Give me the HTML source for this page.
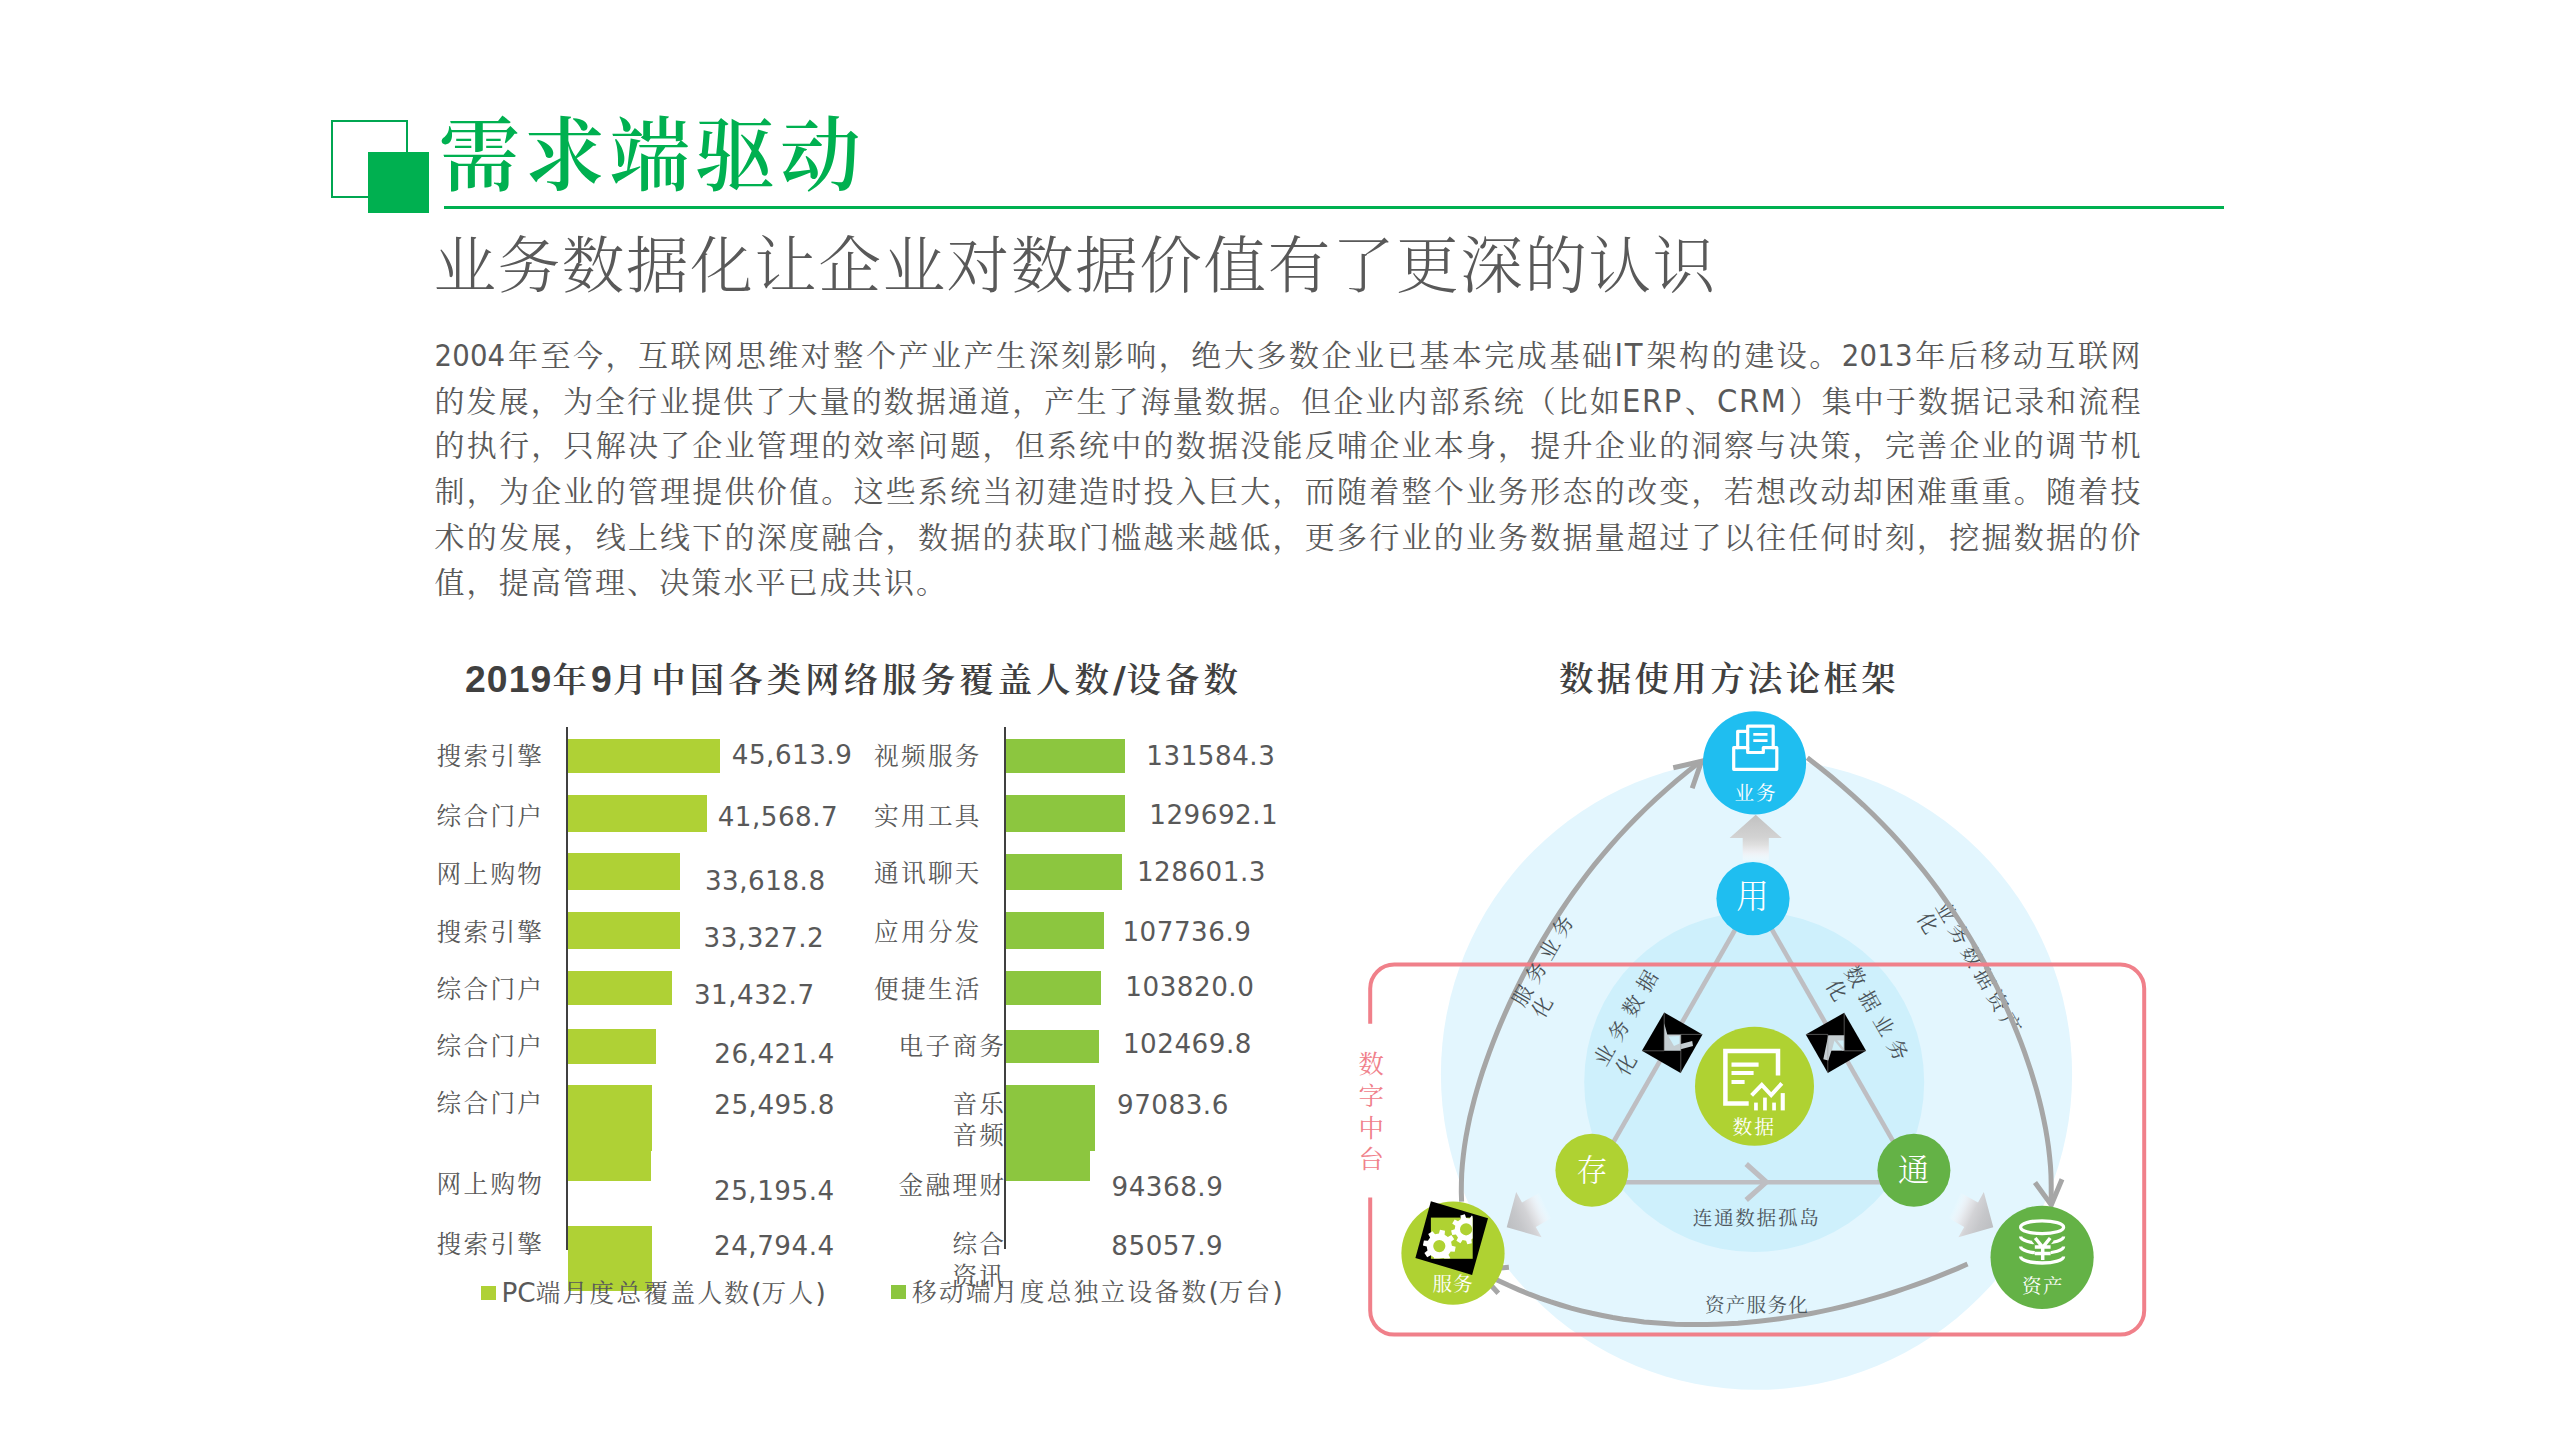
<!DOCTYPE html><html lang="zh-CN"><head><meta charset="utf-8"><title>需求端驱动</title><style>
*{margin:0;padding:0;box-sizing:border-box}
html,body{width:2560px;height:1440px;background:#fff;overflow:hidden}
body{position:relative;font-family:"Liberation Sans","Noto Serif CJK SC",sans-serif;color:#595959}
.abs{position:absolute;white-space:nowrap}
.title{left:439px;top:97.3px;font:600 80.6px/120px "Liberation Serif","Noto Serif CJK SC",serif;color:#00B050;letter-spacing:4.65px}
.sub{left:433.5px;top:220.5px;font:300 62.5px/92px "Liberation Serif","Noto Serif CJK SC",serif;color:#595959;letter-spacing:1.67px}
.body{left:434.5px;width:1706px;font:400 30px/46px "Liberation Sans","Noto Serif CJK SC",sans-serif;color:#595959;text-align:justify;text-align-last:justify;white-space:nowrap}
.body.last{text-align-last:left;width:auto;letter-spacing:2.1px}
.body b,.body em{font-weight:400;font-style:normal;font-family:"DejaVu Sans Condensed","Liberation Sans",sans-serif;font-size:30.6px;letter-spacing:0.2px}
.body em{font-size:32.3px;letter-spacing:1.6px}
.ctitle{font:600 34.4px/50px "DejaVu Sans","Noto Serif CJK SC",sans-serif;color:#404040;letter-spacing:4.1px}
.ctitle i{font-style:normal;font-family:"DejaVu Sans",sans-serif;font-weight:700;font-size:35px;letter-spacing:0.5px}
.ctitle b{font-family:"Liberation Sans",sans-serif;font-weight:700;font-size:37.3px;letter-spacing:1.1px}
.lab{font:400 24.6px/34px "Liberation Serif","Noto Serif CJK SC",serif;color:#595959;letter-spacing:2.35px}
.val{font:400 26.2px/34px "DejaVu Sans","Liberation Sans",sans-serif;color:#595959;transform:translateX(-50%);letter-spacing:0.5px;text-indent:0.5px}
.leg{font:400 24.6px/34px "DejaVu Sans","Noto Serif CJK SC",sans-serif;color:#595959;letter-spacing:2.35px}
.leg b{font-weight:400;font-size:26.3px;letter-spacing:0}
.bar{position:absolute}
</style></head><body>
<div class="abs" style="left:331px;top:120px;width:77px;height:78px;border:2px solid #00A651"></div>
<div class="abs" style="left:368px;top:152px;width:61px;height:61px;background:#00B050"></div>
<div class="abs" style="left:444px;top:206px;width:1780px;height:3px;background:#00B050"></div>
<div class="abs title">需求端驱动</div>
<div class="abs sub">业务数据化让企业对数据价值有了更深的认识</div>
<div class="abs body" style="top:332px"><b>2004</b>年至今，互联网思维对整个产业产生深刻影响，绝大多数企业已基本完成基础<em>IT</em>架构的建设。<b>2013</b>年后移动互联网</div>
<div class="abs body" style="top:377.7px">的发展，为全行业提供了大量的数据通道，产生了海量数据。但企业内部系统（比如<em>ERP</em>、<em>CRM</em>）集中于数据记录和流程</div>
<div class="abs body" style="top:423.4px">的执行，只解决了企业管理的效率问题，但系统中的数据没能反哺企业本身，提升企业的洞察与决策，完善企业的调节机</div>
<div class="abs body" style="top:469.1px">制，为企业的管理提供价值。这些系统当初建造时投入巨大，而随着整个业务形态的改变，若想改动却困难重重。随着技</div>
<div class="abs body" style="top:514.8px">术的发展，线上线下的深度融合，数据的获取门槛越来越低，更多行业的业务数据量超过了以往任何时刻，挖掘数据的价</div>
<div class="abs body last" style="top:559.5px">值，提高管理、决策水平已成共识。</div>
<div class="abs ctitle" style="left:465px;top:654px"><b>2019</b>年<b>9</b>月中国各类网络服务覆盖人数<i>/</i>设备数</div>
<div class="abs ctitle" style="left:1559px;top:654px;letter-spacing:3.4px;font-family:'Liberation Serif','Noto Serif CJK SC',serif;font-weight:600">数据使用方法论框架</div>
<div class="bar" style="left:568px;top:739px;width:152px;height:34px;background:#AFD135"></div>
<div class="bar" style="left:568px;top:795px;width:139px;height:37px;background:#AFD135"></div>
<div class="bar" style="left:568px;top:853px;width:112px;height:37px;background:#AFD135"></div>
<div class="bar" style="left:568px;top:912px;width:112px;height:37px;background:#AFD135"></div>
<div class="bar" style="left:568px;top:971px;width:104px;height:34px;background:#AFD135"></div>
<div class="bar" style="left:568px;top:1029px;width:88px;height:35px;background:#AFD135"></div>
<div class="bar" style="left:568px;top:1085px;width:84px;height:66px;background:#AFD135"></div>
<div class="bar" style="left:568px;top:1150px;width:82.60000000000002px;height:30.5px;background:#AFD135"></div>
<div class="bar" style="left:568px;top:1226px;width:84px;height:65px;background:#AFD135"></div>
<div class="bar" style="left:1006px;top:739px;width:119px;height:34px;background:#8CC63F"></div>
<div class="bar" style="left:1006px;top:795px;width:119px;height:37px;background:#8CC63F"></div>
<div class="bar" style="left:1006px;top:853.5px;width:116px;height:36.5px;background:#8CC63F"></div>
<div class="bar" style="left:1006px;top:912px;width:97.75px;height:37px;background:#8CC63F"></div>
<div class="bar" style="left:1006px;top:971px;width:95px;height:34px;background:#8CC63F"></div>
<div class="bar" style="left:1006px;top:1029.7px;width:92.5px;height:33.700000000000045px;background:#8CC63F"></div>
<div class="bar" style="left:1006px;top:1085px;width:88.75px;height:66px;background:#8CC63F"></div>
<div class="bar" style="left:1006px;top:1150px;width:84.25px;height:31px;background:#8CC63F"></div>
<div class="bar" style="left:566.4px;top:727px;width:2px;height:522.6px;background:#404040"></div>
<div class="bar" style="left:1004.4px;top:727px;width:2px;height:522px;background:#404040"></div>
<div class="abs lab" style="left:436.5px;top:740.0px">搜索引擎</div>
<div class="abs lab" style="left:436.5px;top:799.5px">综合门户</div>
<div class="abs lab" style="left:436.5px;top:858.1px">网上购物</div>
<div class="abs lab" style="left:436.5px;top:916.2px">搜索引擎</div>
<div class="abs lab" style="left:436.5px;top:972.8px">综合门户</div>
<div class="abs lab" style="left:436.5px;top:1030.0px">综合门户</div>
<div class="abs lab" style="left:436.5px;top:1086.5px">综合门户</div>
<div class="abs lab" style="left:436.5px;top:1168.0px">网上购物</div>
<div class="abs lab" style="left:436.5px;top:1228.0px">搜索引擎</div>
<div class="abs lab" style="left:874px;top:739.8px">视频服务</div>
<div class="abs lab" style="left:874px;top:799.8px">实用工具</div>
<div class="abs lab" style="left:874px;top:857.0px">通讯聊天</div>
<div class="abs lab" style="left:874px;top:916.1px">应用分发</div>
<div class="abs lab" style="left:874px;top:972.5px">便捷生活</div>
<div class="abs lab" style="right:1553.7px;top:1030.4px">电子商务</div>
<div class="abs lab" style="right:1553.7px;top:1087.5px">音乐</div>
<div class="abs lab" style="right:1553.7px;top:1119.4px">音频</div>
<div class="abs lab" style="right:1553.7px;top:1168.5px">金融理财</div>
<div class="abs lab" style="right:1553.7px;top:1227.5px">综合</div>
<div class="abs lab" style="right:1553.7px;top:1259.9px">资讯</div>
<div class="abs val" style="left:791.8px;top:738.4px">45,613.9</div>
<div class="abs val" style="left:777.7px;top:800.3px">41,568.7</div>
<div class="abs val" style="left:765.0px;top:864.0px">33,618.8</div>
<div class="abs val" style="left:763.6px;top:920.6px">33,327.2</div>
<div class="abs val" style="left:754.0px;top:978.3px">31,432.7</div>
<div class="abs val" style="left:774.3px;top:1036.5px">26,421.4</div>
<div class="abs val" style="left:774.3px;top:1087.7px">25,495.8</div>
<div class="abs val" style="left:774.1px;top:1174.0px">25,195.4</div>
<div class="abs val" style="left:774.1px;top:1229.3px">24,794.4</div>
<div class="abs val" style="left:1210.6px;top:738.7px">131584.3</div>
<div class="abs val" style="left:1213.5px;top:798.3px">129692.1</div>
<div class="abs val" style="left:1201.2px;top:854.6px">128601.3</div>
<div class="abs val" style="left:1186.7px;top:914.6px">107736.9</div>
<div class="abs val" style="left:1189.6px;top:969.7px">103820.0</div>
<div class="abs val" style="left:1187.2px;top:1027.4px">102469.8</div>
<div class="abs val" style="left:1172.7px;top:1088.3px">97083.6</div>
<div class="abs val" style="left:1167.2px;top:1170.3px">94368.9</div>
<div class="abs val" style="left:1167.0px;top:1228.7px">85057.9</div>
<div class="bar" style="left:481px;top:1286px;width:15px;height:14px;background:#AFD135"></div>
<div class="abs leg" style="left:501.5px;top:1275.9px"><b>PC</b>端月度总覆盖人数<b>(</b>万人<b>)</b></div>
<div class="bar" style="left:891px;top:1285px;width:15px;height:14px;background:#8CC63F"></div>
<div class="abs leg" style="left:912px;top:1274.8px">移动端月度总独立设备数<b>(</b>万台<b>)</b></div>
<svg class="abs" style="left:0;top:0" width="2560" height="1440" viewBox="0 0 2560 1440">
<defs><linearGradient id="ga" x1="0" y1="814.8" x2="0" y2="860.8" gradientUnits="userSpaceOnUse"><stop offset="0" stop-color="#c1c1c1"/><stop offset="0.5" stop-color="#d3d3d3"/><stop offset="0.66" stop-color="#e0e0e0"/><stop offset="0.82" stop-color="#f1eef1" stop-opacity="0.8"/><stop offset="1" stop-color="#ffffff" stop-opacity="0.2"/></linearGradient><linearGradient id="gl" x1="1506.7" y1="1227.2" x2="1548.5" y2="1208" gradientUnits="userSpaceOnUse"><stop offset="0" stop-color="#bcbec1"/><stop offset="0.3" stop-color="#c6c7ca"/><stop offset="0.52" stop-color="#d3d3d6"/><stop offset="0.68" stop-color="#e4e3e6" stop-opacity="0.85"/><stop offset="0.82" stop-color="#f2f1f5" stop-opacity="0.5"/><stop offset="0.97" stop-color="#ffffff" stop-opacity="0"/></linearGradient><linearGradient id="gr" x1="1993.3" y1="1227.2" x2="1951.5" y2="1208" gradientUnits="userSpaceOnUse"><stop offset="0" stop-color="#bcbec1"/><stop offset="0.3" stop-color="#c6c7ca"/><stop offset="0.52" stop-color="#d3d3d6"/><stop offset="0.68" stop-color="#e4e3e6" stop-opacity="0.85"/><stop offset="0.82" stop-color="#f2f1f5" stop-opacity="0.5"/><stop offset="0.97" stop-color="#ffffff" stop-opacity="0"/></linearGradient><clipPath id="gearclip"><rect x="1422" y="1213.5" width="50.6" height="45"/></clipPath></defs>
<circle cx="1756.5" cy="1074.2" r="315.6" fill="#E3F6FE"/>
<circle cx="1754.2" cy="1082" r="170" fill="#CEF0FC"/>
<g fill="none" stroke="#BEBEC2" stroke-width="4.6" stroke-linecap="butt">
<path d="M1753.6,897.5 L1590.5,1182.2"/><path d="M1753.6,897.5 L1916.5,1182.2"/><path d="M1590.5,1182.2 L1916.5,1182.2"/>
<path d="M1746.2,1164 L1766.3,1182.1 L1746.2,1200" stroke-linejoin="miter" stroke-width="5.2"/>
</g>
<g font-family="'Liberation Serif','Noto Serif CJK SC',serif" fill="#4a5257" font-size="20.5"><text transform="translate(1946.2,911.6) rotate(60)" letter-spacing="5.3"><tspan x="-10.2" y="7.3">业务数据资产</tspan><tspan x="-9.7" y="29.1">化</tspan></text></g>
<g fill="none" stroke="#A6A6A6" stroke-width="5" stroke-linecap="butt" stroke-linejoin="miter">
<path d="M1700.1,761.7 L1688.2,771.1 L1676.9,780.4 L1666.0,789.8 L1655.7,799.1 L1645.8,808.5 L1636.3,817.9 L1627.2,827.2 L1618.5,836.6 L1610.2,846.0 L1602.2,855.3 L1594.5,864.7 L1587.2,874.0 L1580.1,883.4 L1573.3,892.8 L1566.8,902.1 L1560.5,911.5 L1554.4,920.8 L1548.6,930.2 L1543.0,939.6 L1537.5,948.9 L1532.3,958.3 L1527.3,967.7 L1522.4,977.0 L1517.7,986.4 L1513.2,995.7 L1508.8,1005.1 L1504.6,1014.5 L1500.6,1023.8 L1496.7,1033.2 L1493.0,1042.6 L1489.5,1051.9 L1486.1,1061.3 L1482.9,1070.6 L1479.9,1080.0 L1477.1,1089.4 L1474.5,1098.7 L1472.1,1108.1 L1469.8,1117.4 L1467.9,1126.8 L1466.1,1136.2 L1464.6,1145.5 L1463.4,1154.9 L1462.4,1164.3 L1461.7,1173.6 L1461.4,1183.0 L1461.3,1192.3 L1461.6,1201.7"/><path d="M1807.3,757.8 L1819.5,767.3 L1831.3,776.8 L1842.5,786.3 L1853.3,795.8 L1863.6,805.3 L1873.4,814.8 L1882.8,824.3 L1891.9,833.8 L1900.5,843.3 L1908.9,852.8 L1916.8,862.3 L1924.5,871.8 L1931.8,881.3 L1938.9,890.8 L1945.6,900.3 L1952.2,909.8 L1958.4,919.3 L1964.5,928.8 L1970.3,938.3 L1975.9,947.8 L1981.2,957.3 L1986.4,966.8 L1991.4,976.3 L1996.2,985.7 L2000.8,995.2 L2005.2,1004.7 L2009.4,1014.2 L2013.4,1023.7 L2017.3,1033.2 L2021.0,1042.7 L2024.5,1052.2 L2027.8,1061.7 L2031.0,1071.2 L2033.9,1080.7 L2036.7,1090.2 L2039.2,1099.7 L2041.5,1109.2 L2043.6,1118.7 L2045.5,1128.2 L2047.1,1137.7 L2048.5,1147.2 L2049.6,1156.7 L2050.5,1166.2 L2051.0,1175.7 L2051.2,1185.2 L2051.2,1194.7 L2050.7,1204.2"/><path d="M1477.2,1269.6 L1487.6,1275.2 L1498.1,1280.4 L1508.5,1285.3 L1518.9,1289.9 L1529.4,1294.2 L1539.8,1298.1 L1550.2,1301.7 L1560.7,1305.0 L1571.1,1308.1 L1581.5,1310.8 L1592.0,1313.3 L1602.4,1315.5 L1612.8,1317.5 L1623.2,1319.2 L1633.7,1320.6 L1644.1,1321.9 L1654.5,1322.8 L1665.0,1323.6 L1675.4,1324.2 L1685.8,1324.5 L1696.3,1324.6 L1706.7,1324.6 L1717.1,1324.3 L1727.6,1323.8 L1738.0,1323.2 L1748.4,1322.3 L1758.9,1321.3 L1769.3,1320.1 L1779.7,1318.7 L1790.2,1317.1 L1800.6,1315.4 L1811.0,1313.5 L1821.5,1311.4 L1831.9,1309.1 L1842.3,1306.7 L1852.7,1304.1 L1863.2,1301.3 L1873.6,1298.4 L1884.0,1295.3 L1894.5,1292.0 L1904.9,1288.5 L1915.3,1284.9 L1925.8,1281.1 L1936.2,1277.1 L1946.6,1272.9 L1957.1,1268.6 L1967.5,1264.0"/>
<path d="M1673.3,767.8 L1701.5,761.3 L1692.2,788.3"/>
<path d="M2035,1182.5 L2051.3,1205 L2062,1179.2"/>
<path d="M1508.9,1267.2 L1477.2,1270.1 L1498.3,1293.3" />
</g>
<path d="M1755.7,814.8 L1729.6,838.1 L1742.7,838.1 L1742.7,860.8 L1768.8,860.8 L1768.8,838.1 L1781.8,838.1 Z" fill="url(#ga)"/>
<path d="M1506.7,1227.2 L1541.6,1237.2 L1535.8,1226.9 L1553.6,1216.8 L1539.9,1192.4 L1522.0,1202.5 L1516.2,1192.1 Z" fill="url(#gl)"/>
<path d="M1993.3,1227.2 L1983.8,1192.1 L1978.0,1202.5 L1960.1,1192.4 L1946.4,1216.8 L1964.2,1226.9 L1958.4,1237.2 Z" fill="url(#gr)"/>
<path d="M1370.2,1023.7 L1370.2,988.6 A24,24 0 0 1 1394.2,964.6 L2120.2,964.6 A24,24 0 0 1 2144.2,988.6 L2144.2,1310.6 A24,24 0 0 1 2120.2,1334.6 L1394.2,1334.6 A24,24 0 0 1 1370.2,1310.6 L1370.2,1197.6" fill="none" stroke="#F0808A" stroke-width="4"/>
<circle cx="1754.5" cy="762.9" r="51.6" fill="#1FBEF0"/>
<circle cx="1753" cy="898.6" r="36.6" fill="#1FBEF0"/>
<circle cx="1754.5" cy="1086.2" r="59.5" fill="#AFD232"/>
<circle cx="1591.9" cy="1170.3" r="36.5" fill="#AFD232"/>
<circle cx="1913.9" cy="1170.3" r="36.5" fill="#64B246"/>
<circle cx="1453" cy="1253.2" r="51.6" fill="#AFD232"/>
<circle cx="2042.1" cy="1257.3" r="51.6" fill="#64B246"/>
<g fill="none" stroke="#fff" stroke-width="3.2" stroke-linejoin="round" stroke-linecap="round">
<path d="M1733.7,747.7 H1747.7 V752.5 H1763.3 V747.7 H1776.8 V769.3 H1733.7 Z"/>
<path d="M1747.7,749 V726.2 H1773.2 V747.7"/>
<path d="M1737.7,747.7 V731.3 H1746.5"/>
<path d="M1753.3,734.3 H1767.5 M1753.3,740.7 H1767.5" stroke-width="2.8" stroke-linecap="butt"/>
</g>
<g fill="none" stroke="#fff" stroke-linejoin="miter" stroke-linecap="butt">
<path d="M1778,1075.5 V1051.1 H1725.4 V1103.5 H1748.7" stroke-width="4.5"/>
<path d="M1731.5,1064.7 H1758.6 M1731.5,1073 H1753.6 M1731.5,1082 H1744.6" stroke-width="4.2"/>
<path d="M1751.6,1095.4 L1761.8,1084.8 L1771.2,1095 L1781.8,1083.4" stroke-width="4"/>
</g>
<g fill="#fff"><rect x="1754.1" y="1102.6" width="3.7" height="7.8"/><rect x="1763.1" y="1097.6" width="3.7" height="12.8"/><rect x="1772.2" y="1102.6" width="3.7" height="7.8"/><rect x="1780.7" y="1093.1" width="4.1" height="17.3"/></g>
<g fill="none" stroke="#fff" stroke-width="3.3" stroke-linecap="butt">
<ellipse cx="2042.1" cy="1227.2" rx="21.5" ry="6.4"/>
<path d="M2020.6,1236.6 A21.5,6.6 0 0 0 2063.6,1236.6"/>
<path d="M2020.6,1246.6 A21.5,6.6 0 0 0 2063.6,1246.6"/>
<path d="M2020.6,1256.4 A21.5,6.6 0 0 0 2063.6,1256.4"/>
</g>
<path d="M2035.2,1238 L2042.7,1247.3 L2050.2,1238 M2042.7,1247.3 V1260 M2034.8,1247 H2050.6 M2034.8,1253.4 H2050.6" fill="none" stroke="#64B246" stroke-width="9" stroke-linecap="butt"/>
<path d="M2035.2,1238 L2042.7,1247.3 L2050.2,1238 M2042.7,1247.3 V1260 M2034.8,1247 H2050.6 M2034.8,1253.4 H2050.6" fill="none" stroke="#fff" stroke-width="3.5" stroke-linecap="butt" stroke-linejoin="miter"/>
<path d="M1430.9,1201.2 L1488,1218.2 L1472.1,1274.9 L1415.4,1258.1 Z" fill="#000"/>
<rect x="1430.9" y="1217.6" width="41.8" height="41.2" fill="#AFD232"/>
<g clip-path="url(#gearclip)" fill="#fff" fill-rule="evenodd">
<path d="M1451.9,1245.7 L1455.7,1246.8 L1454.7,1251.8 L1450.7,1251.4 L1448.5,1254.7 L1450.4,1258.2 L1446.1,1261.0 L1443.6,1257.9 L1439.7,1258.7 L1438.6,1262.5 L1433.6,1261.5 L1434.0,1257.5 L1430.7,1255.3 L1427.2,1257.2 L1424.4,1252.9 L1427.5,1250.4 L1426.7,1246.5 L1422.9,1245.4 L1423.9,1240.4 L1427.9,1240.8 L1430.1,1237.5 L1428.2,1234.0 L1432.5,1231.2 L1435.0,1234.3 L1438.9,1233.5 L1440.0,1229.7 L1445.0,1230.7 L1444.6,1234.7 L1447.9,1236.9 L1451.4,1235.0 L1454.2,1239.3 L1451.1,1241.8 Z M1445.4,1246.1 A6.1,6.1 0 1 0 1433.2,1246.1 A6.1,6.1 0 1 0 1445.4,1246.1 Z"/>
<path d="M1476.9,1232.8 L1480.0,1235.0 L1477.5,1239.0 L1474.2,1237.4 L1471.3,1239.5 L1471.8,1243.2 L1467.3,1244.3 L1466.1,1240.7 L1462.6,1240.1 L1460.4,1243.2 L1456.4,1240.7 L1458.0,1237.4 L1455.9,1234.5 L1452.2,1235.0 L1451.1,1230.5 L1454.7,1229.3 L1455.3,1225.8 L1452.2,1223.6 L1454.7,1219.6 L1458.0,1221.2 L1460.9,1219.1 L1460.4,1215.4 L1464.9,1214.3 L1466.1,1217.9 L1469.6,1218.5 L1471.8,1215.4 L1475.8,1217.9 L1474.2,1221.2 L1476.3,1224.1 L1480.0,1223.6 L1481.1,1228.1 L1477.5,1229.3 Z M1472.2,1229.3 A6.1,6.1 0 1 0 1460.0,1229.3 A6.1,6.1 0 1 0 1472.2,1229.3 Z"/>
</g>
<path d="M1664.2,1012.5 L1702.5,1034.4 L1680.6,1073.1 L1641.9,1050.8 Z" fill="#000"/>
<path d="M1664.2,1023.3 L1667.3,1034.4 L1680.8,1034.4 L1680.8,1043.9 L1692.2,1041.1 L1693,1046.1 L1680.8,1049.2 L1680.8,1050.8 L1664.2,1050.8 Z" fill="#C4CDD1"/>
<path d="M1668.5,1036.5 L1679.5,1036 L1679.5,1043.5 L1674,1046 Z" fill="#CFEFF9"/>
<g stroke="#9a9a9a" stroke-width="0.6" opacity="0.9"><path d="M1664.2,1012.5 V1050.8 M1680.8,1034.4 H1702.5 M1680.8,1034.4 V1073.1 M1641.9,1050.8 H1664.2"/></g>
<path d="M1844.2,1012.8 L1866.1,1050.8 L1827.8,1073.1 L1805.8,1034.4 Z" fill="#000"/>
<path d="M1828.3,1035.3 L1844.2,1035.3 L1844.2,1050.8 L1831.4,1050.8 L1828.3,1060.5 L1823.3,1059.2 Z" fill="#C4CDD1"/>
<path d="M1834.5,1040.5 L1843.6,1040.5 L1843.6,1050 L1832,1050 Z" fill="#CFEFF9"/>
<path d="M1835,1039.5 L1843.5,1050" stroke="#C4CDD1" stroke-width="2.4"/>
<g stroke="#9a9a9a" stroke-width="0.6" opacity="0.9"><path d="M1844.2,1012.8 V1050.8 M1805.8,1034.4 H1827.8 M1827.8,1034.4 V1073.1 M1844.2,1050.8 H1866.1"/></g>
<g font-family="'Liberation Serif','Noto Serif CJK SC',serif" fill="#fff" text-anchor="middle">
<text x="1755.9" y="800" font-size="19.6" letter-spacing="1.7">业务</text>
<text x="1752.4" y="908.2" font-size="32.5" font-weight="300">用</text>
<text x="1754.2" y="1134" font-size="19.8" letter-spacing="1.9">数据</text>
<text x="1592" y="1181.2" font-size="31" font-weight="300">存</text>
<text x="1913.4" y="1180.8" font-size="31" font-weight="300">通</text>
<text x="1453" y="1291.3" font-size="19.6" letter-spacing="1">服务</text>
<text x="2043" y="1292.8" font-size="19.6" letter-spacing="1.4">资产</text>
</g>
<g font-family="'Liberation Serif','Noto Serif CJK SC',serif" fill="#4d565c" text-anchor="middle" font-size="19.6">
<text x="1756.6" y="1224.7" letter-spacing="1.7">连通数据孤岛</text>
<text x="1757" y="1312.3" letter-spacing="1.2">资产服务化</text>
</g>
<text font-family="'Liberation Serif','Noto Serif CJK SC',serif" fill="#F0808A" font-size="25.4" text-anchor="middle"><tspan x="1371.2" y="1073.4">数</tspan><tspan x="1371.2" y="1105">字</tspan><tspan x="1371.2" y="1136.6">中</tspan><tspan x="1371.2" y="1167.8">台</tspan></text>
<g font-family="'Liberation Serif','Noto Serif CJK SC',serif" fill="#4a5257" font-size="20.5">
<text transform="translate(1604.6,1055) rotate(-60)" letter-spacing="7.9"><tspan x="-10.2" y="7.3">业务数据</tspan><tspan x="-7.799999999999999" y="30.8">化</tspan></text>
<text transform="translate(1855.4,976.5) rotate(60)" letter-spacing="7.7"><tspan x="-10.2" y="7.3">数据业务</tspan><tspan x="-7.699999999999999" y="30.3">化</tspan></text>
<text transform="translate(1522.6,995.8) rotate(-60)" letter-spacing="6.3"><tspan x="-10.2" y="7.3">服务业务</tspan><tspan x="-10.2" y="29.8">化</tspan></text>
</g>
</svg>
</body></html>
